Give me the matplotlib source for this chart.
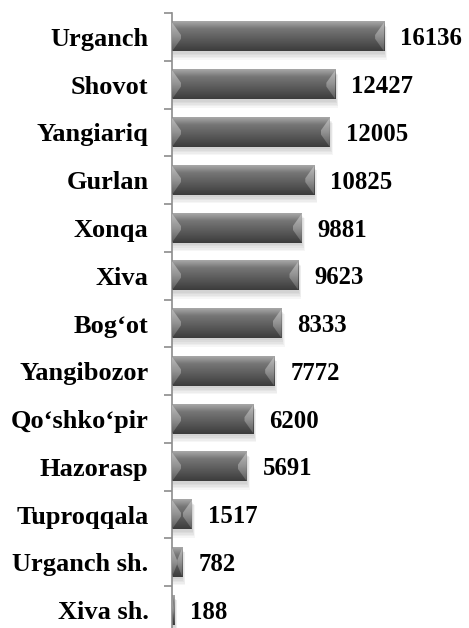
import matplotlib.pyplot as plt
import numpy as np
from matplotlib.patches import Polygon, Rectangle
from matplotlib.colors import LinearSegmentedColormap

districts = ['Urganch', 'Shovot', 'Yangiariq', 'Gurlan', 'Xonqa', 'Xiva', 'Bog\u2018ot',
             'Yangibozor', 'Qo\u2018shko\u2018pir', 'Hazorasp', 'Tuproqqala', 'Urganch sh.', 'Xiva sh.']
values = [16136, 12427, 12005, 10825, 9881, 9623, 8333, 7772, 6200, 5691, 1517, 782, 188]

plt.rcParams['font.family'] = 'Liberation Serif'
plt.rcParams['font.weight'] = 'bold'

fig = plt.figure(figsize=(4.69, 6.28), dpi=100)
ax = fig.add_axes([172 / 469, -6 / 628, 236.6 / 469, 621 / 628])
xmax = 18000
ax.set_xlim(0, xmax)
ax.set_ylim(len(districts) - 0.5, -0.5)

h = 0.61
px = xmax / 236.6  # data units per pixel in x
face_cmap = LinearSegmentedColormap.from_list('face', ['#a8a8a8', '#767676', '#636363', '#505050', '#3c3c3c'])
end_cmap = LinearSegmentedColormap.from_list('end', ['#bcbcbc', '#929292', '#5c5c5c'])
grad = np.linspace(0, 1, 64).reshape(-1, 1)

for i, v in enumerate(values):
    top, bot = i - h / 2, i + h / 2
    # soft shadow
    for k in range(5):
        ax.add_patch(Rectangle((0, top + 0.05 + k * 0.012), v + (k + 1) * 0.6 * px, h + k * 0.02,
                               facecolor='black', alpha=0.035, lw=0, zorder=1))
    ax.imshow(grad, cmap=face_cmap, aspect='auto', extent=(0, v, bot, top), zorder=2,
              interpolation='bilinear')
    b = min(9 * px, v / 2)
    mid = i
    for x_edge, sgn in [(0, 1), (v, -1)]:
        tri = Polygon([(x_edge, top), (x_edge + sgn * b, mid - 0.04), (x_edge + sgn * b, mid + 0.04),
                       (x_edge, bot)], closed=True, facecolor='none', lw=0)
        ax.add_patch(tri)
        im = ax.imshow(grad, cmap=end_cmap, aspect='auto', zorder=3, interpolation='bilinear',
                       extent=(min(x_edge, x_edge + sgn * b), max(x_edge, x_edge + sgn * b), bot, top))
        im.set_clip_path(tri)
    ax.annotate(f'{v}', (v, i), xytext=(11.5, -1.5), textcoords='offset points',
                ha='left', va='center', fontsize=17.8, fontweight='bold', annotation_clip=False)

ax.set_xlim(0, xmax)
ax.set_ylim(len(districts) - 0.5, -0.5)

for s in ['top', 'right', 'bottom']:
    ax.spines[s].set_visible(False)
ax.spines['left'].set_color('#8c8c8c')
ax.spines['left'].set_linewidth(1.2)
ax.set_xticks([])
ax.set_yticks(range(len(districts)))
ax.set_yticklabels(districts, fontsize=19, fontweight='bold')
ax.tick_params(axis='y', which='major', length=0, pad=17)
ax.set_yticks(np.arange(-0.5, len(districts), 1), minor=True)
ax.tick_params(axis='y', which='minor', length=6, width=1.2, color='#8c8c8c')

fig.savefig('out.png', dpi=100)
